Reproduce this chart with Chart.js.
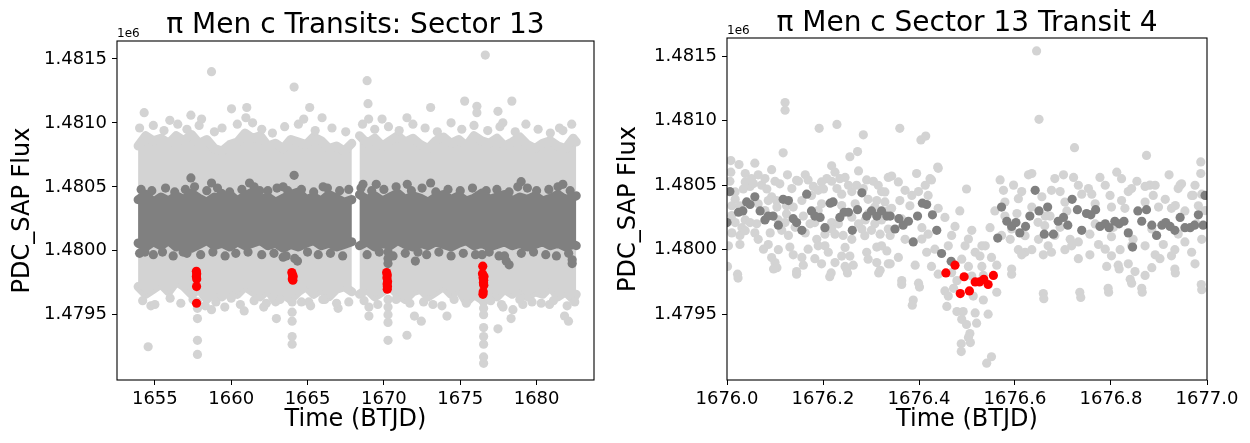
<!DOCTYPE html>
<html>
<head>
<meta charset="utf-8">
<script src="https://cdn.jsdelivr.net/npm/chart.js@4.4.0/dist/chart.umd.min.js"></script>
<style>
  html, body { margin: 0; padding: 0; background: #fff; }
  #wrap { position: relative; width: 1250px; height: 443px; }
  #left { position: absolute; left: 0; top: 0; }
  #right { position: absolute; left: 600px; top: 0; }
</style>
</head>
<body>
<div id="wrap">
  <canvas id="left" width="600" height="443"></canvas>
  <canvas id="right" width="650" height="443"></canvas>
</div>
<script>
// flux values in e-/s (axis shows them with a 1e6 offset)
const fluxTicks = [1479500, 1480000, 1480500, 1481000, 1481500];
const sectorTicks = [1655, 1660, 1665, 1670, 1675, 1680];
const transitTicks = [1676.0, 1676.2, 1676.4, 1676.6, 1676.8, 1677.0];

// Sector 13: the dense cloud is given by its upper/lower edges, per orbit segment
const seg1Time = [1653.9, 1654.4, 1654.9, 1655.4, 1655.9, 1656.4, 1656.9, 1657.4, 1657.9, 1658.4, 1658.9, 1659.4, 1659.9, 1660.4, 1660.9, 1661.4, 1661.9, 1662.4, 1662.9, 1663.4, 1663.9, 1664.4, 1664.9, 1665.4, 1665.9, 1666.4, 1666.9, 1667.4, 1667.9];
const seg1LightTop = [1480820, 1480900, 1480860, 1480880, 1480840, 1480900, 1480860, 1480910, 1480840, 1480870, 1480800, 1480780, 1480830, 1480850, 1480920, 1480880, 1480900, 1480820, 1480840, 1480800, 1480870, 1480850, 1480830, 1480890, 1480860, 1480800, 1480820, 1480780, 1480840];
const seg1LightBottom = [1479720, 1479660, 1479700, 1479740, 1479680, 1479760, 1479720, 1479660, 1479700, 1479620, 1479680, 1479640, 1479700, 1479660, 1479720, 1479680, 1479640, 1479700, 1479600, 1479660, 1479620, 1479680, 1479720, 1479660, 1479700, 1479640, 1479700, 1479720, 1479680];
const seg1DarkTop = [1480400, 1480440, 1480380, 1480420, 1480390, 1480430, 1480400, 1480450, 1480410, 1480380, 1480420, 1480400, 1480440, 1480390, 1480430, 1480460, 1480400, 1480420, 1480380, 1480410, 1480440, 1480460, 1480400, 1480420, 1480390, 1480440, 1480410, 1480380, 1480400];
const seg1DarkBottom = [1480060, 1480030, 1480070, 1480040, 1480080, 1480030, 1480060, 1480020, 1480050, 1480080, 1480040, 1480060, 1480030, 1480070, 1480040, 1480060, 1480080, 1480040, 1480060, 1480020, 1480050, 1480030, 1480060, 1480080, 1480040, 1480060, 1480030, 1480050, 1480070];

const seg2Time = [1668.4, 1668.9, 1669.4, 1669.9, 1670.4, 1670.9, 1671.4, 1671.9, 1672.4, 1672.9, 1673.4, 1673.9, 1674.4, 1674.9, 1675.4, 1675.9, 1676.4, 1676.9, 1677.4, 1677.9, 1678.4, 1678.9, 1679.4, 1679.9, 1680.4, 1680.9, 1681.4, 1681.9, 1682.4, 1682.6];
const seg2LightTop = [1480900, 1480840, 1480880, 1480820, 1480860, 1480900, 1480850, 1480880, 1480830, 1480800, 1480860, 1480890, 1480840, 1480870, 1480820, 1480900, 1480860, 1480840, 1480880, 1480820, 1480850, 1480890, 1480830, 1480800, 1480840, 1480860, 1480820, 1480800, 1480880, 1480850];
const seg2LightBottom = [1479660, 1479700, 1479640, 1479680, 1479720, 1479660, 1479620, 1479680, 1479700, 1479640, 1479680, 1479720, 1479660, 1479700, 1479600, 1479660, 1479620, 1479680, 1479640, 1479700, 1479660, 1479700, 1479640, 1479680, 1479660, 1479720, 1479640, 1479680, 1479620, 1479660];
const seg2DarkTop = [1480440, 1480400, 1480430, 1480390, 1480420, 1480450, 1480400, 1480430, 1480410, 1480380, 1480420, 1480440, 1480400, 1480430, 1480390, 1480410, 1480450, 1480400, 1480420, 1480440, 1480390, 1480420, 1480400, 1480430, 1480390, 1480410, 1480440, 1480400, 1480420, 1480430];
const seg2DarkBottom = [1480040, 1480070, 1480030, 1480060, 1480040, 1480080, 1480050, 1480030, 1480060, 1480040, 1480070, 1480050, 1480030, 1480060, 1480080, 1480040, 1480060, 1480030, 1480050, 1480070, 1480040, 1480060, 1480030, 1480050, 1480070, 1480040, 1480060, 1480030, 1480050, 1480040];

// Sector 13: loose cadences along the edges of the cloud
const lightTopDotTime = [1654.0, 1654.9, 1655.6, 1656.5, 1657.1, 1657.9, 1658.9, 1659.4, 1660.4, 1661.4, 1662.0, 1662.7, 1663.5, 1664.4, 1665.5, 1666.6, 1667.5, 1668.6, 1669.4, 1670.3, 1671.0, 1671.9, 1672.7, 1673.5, 1674.4, 1675.1, 1675.9, 1676.8, 1677.6, 1678.6, 1679.3, 1680.1, 1680.9, 1681.5, 1682.3];
const lightTopDotFlux = [1480960, 1480980, 1480940, 1480990, 1480950, 1480980, 1480930, 1480960, 1480990, 1481000, 1480950, 1480920, 1480970, 1480990, 1480940, 1480960, 1480930, 1480990, 1480950, 1480970, 1480940, 1480990, 1480960, 1480930, 1481000, 1480950, 1480980, 1480940, 1480970, 1480930, 1480990, 1480950, 1480920, 1480960, 1480990];
const lightLowDotTime = [1654.2, 1655.0, 1656.0, 1656.7, 1657.5, 1658.3, 1659.0, 1660.0, 1660.6, 1661.5, 1662.3, 1663.2, 1664.6, 1665.2, 1666.0, 1666.9, 1667.7, 1668.7, 1669.6, 1670.8, 1671.7, 1672.6, 1673.8, 1674.6, 1675.4, 1677.0, 1677.7, 1678.9, 1679.7, 1680.3, 1681.1, 1682.0, 1682.5];
const lightLowDotFlux = [1479610, 1479580, 1479630, 1479590, 1479620, 1479570, 1479600, 1479630, 1479580, 1479610, 1479590, 1479620, 1479600, 1479570, 1479620, 1479590, 1479600, 1479610, 1479580, 1479620, 1479590, 1479600, 1479570, 1479620, 1479590, 1479610, 1479580, 1479620, 1479600, 1479590, 1479610, 1479570, 1479600];
const darkTopDotTime = [1654.1, 1654.8, 1655.7, 1656.3, 1657.0, 1657.6, 1658.4, 1659.1, 1659.9, 1660.7, 1661.5, 1662.4, 1663.0, 1663.7, 1664.6, 1665.4, 1666.3, 1667.1, 1667.7, 1668.5, 1669.2, 1670.0, 1670.8, 1671.8, 1672.5, 1673.4, 1674.2, 1675.0, 1675.8, 1676.7, 1677.4, 1678.2, 1679.4, 1680.0, 1680.8, 1681.4, 1682.2];
const darkTopDotFlux = [1480480, 1480470, 1480490, 1480460, 1480480, 1480500, 1480470, 1480490, 1480460, 1480480, 1480500, 1480470, 1480490, 1480470, 1480480, 1480460, 1480490, 1480470, 1480480, 1480490, 1480470, 1480480, 1480500, 1480470, 1480490, 1480460, 1480480, 1480470, 1480490, 1480470, 1480480, 1480460, 1480490, 1480470, 1480480, 1480500, 1480470];
const darkLowDotTime = [1654.0, 1654.9, 1655.5, 1656.2, 1657.1, 1658.0, 1658.8, 1659.6, 1660.3, 1661.1, 1662.0, 1662.8, 1663.6, 1665.0, 1665.7, 1666.5, 1667.3, 1668.9, 1669.7, 1670.6, 1671.4, 1672.8, 1673.6, 1674.4, 1675.2, 1676.0, 1676.9, 1677.9, 1679.0, 1679.8, 1680.6, 1681.3, 1682.1];
const darkLowDotFlux = [1479980, 1479970, 1479990, 1479960, 1479980, 1479970, 1479990, 1479960, 1479980, 1479990, 1479970, 1479980, 1479960, 1479990, 1479970, 1479980, 1479960, 1479970, 1479990, 1479960, 1479980, 1479970, 1479990, 1479960, 1479980, 1479970, 1479990, 1479960, 1479980, 1479990, 1479970, 1479960, 1479980];

// Sector 13: single cadences standing out of the cloud
const sectorLightTime = [1658.71, 1664.12, 1654.30, 1660.02, 1661.02, 1657.36, 1655.98, 1658.06, 1665.14, 1665.95, 1664.75, 1660.96, 1654.56, 1657.79, 1657.79, 1657.79, 1663.99, 1663.99, 1662.96, 1667.00, 1654.74, 1665.08, 1658.71, 1660.85, 1659.58, 1662.13, 1666.13,
  1676.64, 1668.90, 1668.96, 1669.00, 1669.88, 1671.51, 1673.06, 1675.29, 1676.09, 1676.09, 1677.47, 1678.38, 1677.79, 1681.72, 1670.27, 1671.51, 1676.53, 1676.53, 1676.53, 1676.53, 1677.47, 1669.02, 1669.02, 1672.45, 1672.00, 1674.13, 1678.33, 1682.09, 1681.83, 1679.10, 1673.21, 1680.85, 1677.80, 1678.45,
  1676.53, 1676.53, 1676.53, 1676.53, 1670.27, 1670.27, 1670.27, 1670.27, 1663.99, 1663.99, 1663.99, 1657.79, 1657.79];
const sectorLightFlux = [1481400, 1481280, 1481080, 1481110, 1481120, 1481060, 1481020, 1481030, 1481120, 1481040, 1481030, 1481040, 1479250, 1479300, 1479190, 1479470, 1479330, 1479270, 1479470, 1479550, 1479570, 1479600, 1479540, 1479530, 1479560, 1479560, 1479620,
  1481530, 1481330, 1481150, 1481030, 1481030, 1481040, 1481120, 1481170, 1481130, 1481080, 1481090, 1481170, 1481000, 1480940, 1479300, 1479340, 1479120, 1479170, 1479270, 1479330, 1479390, 1479490, 1479560, 1479450, 1479490, 1479490, 1479470, 1479450, 1479490, 1479580, 1479580, 1479580, 1479560, 1479540,
  1479600, 1479550, 1479500, 1479400, 1479620, 1479560, 1479500, 1479440, 1479600, 1479520, 1479450, 1479600, 1479550];
const sectorDarkTime = [1656.85, 1654.35, 1663.40, 1664.16, 1664.34, 1658.71, 1664.12, 1657.36, 1661.20, 1666.02, 1659.36, 1661.87, 1663.40, 1670.27, 1670.27, 1670.27, 1672.23, 1672.06, 1676.43, 1677.54, 1678.20, 1678.01, 1682.33, 1682.33, 1668.63, 1669.50, 1673.06, 1678.99, 1678.77, 1681.72, 1671.53];
const sectorDarkFlux = [1479990, 1479990, 1479950, 1479940, 1479920, 1480530, 1480590, 1480570, 1480530, 1480500, 1480450, 1480470, 1480500, 1479990, 1479940, 1479900, 1479990, 1479920, 1479970, 1479960, 1479890, 1479920, 1479930, 1479900, 1480520, 1480520, 1480530, 1480540, 1480500, 1480520, 1480520];
const sectorRedTime = [1657.72, 1657.74, 1657.72, 1657.74, 1657.73, 1657.73, 1663.97, 1664.02, 1664.06, 1664.00, 1664.04, 1670.18, 1670.22, 1670.20, 1670.24, 1670.21, 1670.23, 1670.22];
const sectorRedFlux = [1479840, 1479820, 1479800, 1479780, 1479720, 1479590, 1479830, 1479810, 1479800, 1479780, 1479770, 1479830, 1479810, 1479790, 1479760, 1479740, 1479720, 1479700];

// Transit 4 close-up: 2-min cadences (light), binned (dark), in-transit bins (red)
const transitLightTime = [1676.008, 1676.025, 1676.058, 1676.117, 1676.093, 1676.126, 1676.008, 1676.006, 1676.038, 1676.051, 1676.065, 1676.048, 1676.034, 1676.017, 1676.010, 1676.027, 1676.072, 1676.083, 1676.100, 1676.110, 1676.093, 1676.086, 1676.138, 1676.104, 1676.124, 1676.149, 1676.163, 1676.169, 1676.180, 1676.190, 1676.201, 1676.218, 1676.225, 1676.235, 1676.218, 1676.246, 1676.256, 1676.272, 1676.274, 1676.291, 1676.305, 1676.322, 1676.336, 1676.239, 1676.260, 1676.294, 1676.312, 1676.329, 1676.017, 1676.031, 1676.038, 1676.048, 1676.062, 1676.107, 1676.121, 1676.159, 1676.173, 1676.183, 1676.218, 1676.232, 1676.274, 1676.288, 1676.308, 1676.322, 1676.010, 1676.027, 1676.058, 1676.065, 1676.090, 1676.114, 1676.128, 1676.163, 1676.187, 1676.204, 1676.225, 1676.242, 1676.260, 1676.281, 1676.301, 1676.319, 1676.336, 1676.027, 1676.086, 1676.107, 1676.131, 1676.138, 1676.156, 1676.183, 1676.190, 1676.204, 1676.211, 1676.239, 1676.256, 1676.291, 1676.312, 1676.333, 1676.100, 1676.104, 1676.159, 1676.197, 1676.246, 1676.263, 1676.312, 1676.336, 1676.022, 1676.145, 1676.217, 1676.249, 1676.319, 1676.001,
  1676.121, 1676.121, 1676.192, 1676.229, 1676.284, 1676.360, 1676.404, 1676.414, 1676.439, 1676.423, 1676.485,
  1676.440, 1676.343, 1676.395, 1676.426, 1676.499, 1676.371, 1676.399, 1676.360, 1676.419, 1676.343, 1676.381, 1676.440, 1676.454, 1676.475, 1676.510, 1676.406, 1676.340, 1676.371, 1676.419, 1676.468, 1676.496, 1676.538, 1676.548, 1676.517, 1676.357, 1676.416, 1676.527, 1676.551, 1676.340, 1676.392, 1676.426, 1676.440, 1676.503, 1676.531, 1676.562, 1676.593, 1676.364, 1676.399, 1676.479, 1676.472, 1676.534, 1676.562, 1676.388, 1676.454, 1676.461, 1676.513, 1676.534, 1676.659, 1676.458, 1676.479, 1676.492, 1676.517, 1676.544, 1676.489, 1676.499, 1676.520, 1676.506, 1676.503, 1676.488, 1676.551, 1676.541,
  1676.569, 1676.628, 1676.635, 1676.576, 1676.597, 1676.614, 1676.656, 1676.558, 1676.579, 1676.604, 1676.635, 1676.663, 1676.572, 1676.590, 1676.607, 1676.621, 1676.635, 1676.649, 1676.669, 1676.659, 1676.614,
  1676.645, 1676.650, 1676.724, 1676.874, 1676.987, 1676.987, 1676.921, 1676.812, 1676.822, 1676.701, 1676.722, 1676.777, 1676.854, 1676.881, 1676.944, 1676.971,
  1676.947, 1676.871, 1676.676, 1676.694, 1676.739, 1676.760, 1676.798, 1676.836, 1676.888, 1676.913, 1676.968, 1676.989, 1676.673, 1676.708, 1676.801, 1676.829, 1676.899, 1676.926, 1676.954, 1676.982, 1676.683, 1676.715, 1676.732, 1676.756, 1676.774, 1676.801, 1676.819, 1676.846, 1676.871, 1676.892, 1676.909, 1676.933, 1676.954, 1676.968, 1676.989, 1676.676, 1676.704, 1676.732, 1676.756, 1676.791, 1676.815, 1676.836, 1676.850, 1676.840, 1676.871, 1676.885, 1676.902, 1676.933, 1676.975, 1676.794, 1676.864, 1676.735, 1676.988,
  1676.737, 1676.660, 1676.795, 1676.865, 1676.989, 1676.593, 1676.386, 1676.401, 1676.023, 1676.145, 1676.097, 1676.214, 1676.251, 1676.316, 1676.364, 1676.817, 1676.934, 1676.843, 1676.488, 1676.507,
  1676.038, 1676.055, 1676.079, 1676.135, 1676.145, 1676.176, 1676.197, 1676.208, 1676.229, 1676.253, 1676.270, 1676.284, 1676.315, 1676.329, 1676.017, 1676.065, 1676.103, 1676.156, 1676.197, 1676.239, 1676.267, 1676.308, 1676.010, 1676.079, 1676.124, 1676.190, 1676.260, 1676.294, 1676.336, 1676.038, 1676.142, 1676.218, 1676.287, 1676.322, 1676.003, 1676.076, 1676.169, 1676.246, 1676.093, 1676.225, 1676.294,
  1676.683, 1676.732, 1676.753, 1676.788, 1676.843, 1676.892, 1676.940, 1676.975, 1676.704, 1676.767, 1676.822, 1676.871, 1676.934, 1676.996, 1676.694, 1676.767, 1676.805, 1676.885, 1676.940, 1676.978, 1676.718, 1676.788, 1676.843, 1676.926, 1676.801,
  1676.357, 1676.385, 1676.413, 1676.364, 1676.406, 1676.433, 1676.461, 1676.503, 1676.531, 1676.579, 1676.607, 1676.648, 1676.593, 1676.621, 1676.662, 1676.489, 1676.510, 1676.468];
const transitLightFlux = [1480690, 1480660, 1480670, 1480750, 1480620, 1480580, 1480600, 1480530, 1480590, 1480550, 1480580, 1480490, 1480470, 1480390, 1480340, 1480340, 1480500, 1480470, 1480530, 1480510, 1480410, 1480380, 1480330, 1480330, 1480340, 1480530, 1480580, 1480540, 1480490, 1480460, 1480470, 1480650, 1480600, 1480550, 1480530, 1480560, 1480720, 1480760, 1480610, 1480540, 1480530, 1480450, 1480560, 1480430, 1480450, 1480390, 1480380, 1480370, 1480210, 1480170, 1480230, 1480210, 1480200, 1480230, 1480210, 1480260, 1480200, 1480210, 1480210, 1480200, 1480200, 1480230, 1480200, 1480230, 1480130, 1480110, 1480130, 1480080, 1480130, 1480150, 1480110, 1480130, 1480080, 1480120, 1480120, 1480110, 1480080, 1480160, 1480150, 1480120, 1480160, 1480040, 1480040, 1480000, 1480020, 1479960, 1479940, 1479930, 1480030, 1480030, 1479980, 1479950, 1479950, 1479980, 1480020, 1479990, 1479900, 1479860, 1479880, 1479890, 1479870, 1479880, 1479900, 1479890, 1479810, 1479830, 1479820, 1479850, 1479840, 1479870,
  1481140, 1481080, 1480940, 1480970, 1480890, 1480940, 1480850, 1480880, 1480640, 1480550, 1480300,
  1480630, 1480570, 1480590, 1480540, 1480470, 1480460, 1480450, 1480380, 1480420, 1480320, 1480340, 1480320, 1480250, 1480180, 1480150, 1480170, 1480110, 1480080, 1480120, 1480110, 1480030, 1480030, 1480170, 1479980, 1479940, 1479980, 1479950, 1479940, 1479890, 1479880, 1479870, 1479810, 1479870, 1479870, 1479880, 1479850, 1479760, 1479740, 1479760, 1479700, 1479800, 1479670, 1479610, 1479680, 1479640, 1479640, 1479610, 1479660, 1479560, 1479520, 1479520, 1479510, 1479500, 1479460, 1479420, 1479430, 1479350, 1479320, 1479270, 1479170, 1479120,
  1480540, 1480580, 1480590, 1480460, 1480500, 1480450, 1480410, 1480300, 1480260, 1480280, 1480330, 1480260, 1480110, 1480080, 1480000, 1479980, 1480000, 1480080, 1480030, 1479960, 1479960,
  1481540, 1481010, 1480790, 1480730, 1480680, 1480590, 1480580, 1480600, 1480550, 1480580, 1480560, 1480560, 1480530, 1480500, 1480500, 1480420,
  1480510, 1480490, 1480460, 1480450, 1480430, 1480430, 1480420, 1480450, 1480420, 1480390, 1480420, 1480430, 1480260, 1480300, 1480330, 1480320, 1480330, 1480320, 1480300, 1480340, 1480110, 1480080, 1480060, 1480120, 1480040, 1480100, 1480000, 1480080, 1480030, 1479960, 1480040, 1480000, 1480060, 1479980, 1480080, 1479980, 1480000, 1479930, 1479960, 1479870, 1479880, 1479890, 1479830, 1479770, 1479800, 1479860, 1479930, 1479850, 1479890, 1479700, 1479700, 1479670, 1479730,
  1479630, 1479620, 1479670, 1479670, 1479690, 1479810, 1479570, 1479710, 1479780, 1479810, 1479850, 1479790, 1479820, 1479820, 1479730, 1479850, 1479820, 1479740, 1479210, 1479280,
  1480525, 1480512, 1480551, 1480473, 1480537, 1480420, 1480525, 1480551, 1480473, 1480499, 1480499, 1480473, 1480499, 1480447, 1480447, 1480355, 1480381, 1480381, 1480355, 1480342, 1480355, 1480330, 1480264, 1480303, 1480277, 1480303, 1480251, 1480277, 1480303, 1480147, 1480173, 1480160, 1480108, 1480030, 1480030, 1480004, 1480004, 1480017, 1479939, 1479900, 1479926,
  1480551, 1480499, 1480473, 1480499, 1480473, 1480499, 1480473, 1480499, 1480369, 1480355, 1480381, 1480369, 1480342, 1480303, 1480173, 1480199, 1480173, 1480160, 1480121, 1480199, 1480030, 1480004, 1480030, 1479952, 1479952,
  1480525, 1480420, 1480499, 1480238, 1480082, 1480004, 1480030, 1480082, 1480030, 1480369, 1480395, 1480212, 1480160, 1480108, 1480186, 1479926, 1479795, 1479822];
const transitDarkTime = [1676.000, 1676.006, 1676.024, 1676.033, 1676.041, 1676.048, 1676.058, 1676.069, 1676.079, 1676.086, 1676.096, 1676.107, 1676.117, 1676.128, 1676.138, 1676.145, 1676.156, 1676.166, 1676.176, 1676.183, 1676.194, 1676.204, 1676.215, 1676.221, 1676.235, 1676.244, 1676.253, 1676.261, 1676.272, 1676.281, 1676.291, 1676.301, 1676.312, 1676.322, 1676.333, 1676.340, 1676.350, 1676.358, 1676.367, 1676.378, 1676.388, 1676.397, 1676.407, 1676.416, 1676.428, 1676.437, 1676.447, 1676.467, 1676.564, 1676.572, 1676.583, 1676.593, 1676.602, 1676.610, 1676.622, 1676.631, 1676.642, 1676.650, 1676.661, 1676.668, 1676.680, 1676.690, 1676.701, 1676.710, 1676.719, 1676.730, 1676.739, 1676.749, 1676.758, 1676.768, 1676.777, 1676.788, 1676.796, 1676.808, 1676.817, 1676.827, 1676.836, 1676.845, 1676.856, 1676.864, 1676.874, 1676.885, 1676.895, 1676.906, 1676.914, 1676.923, 1676.933, 1676.944, 1676.954, 1676.965, 1676.974, 1676.982, 1676.992, 1676.996];
const transitDarkFlux = [1480210, 1480450, 1480290, 1480300, 1480370, 1480350, 1480410, 1480300, 1480230, 1480260, 1480260, 1480190, 1480390, 1480380, 1480240, 1480210, 1480150, 1480430, 1480300, 1480260, 1480250, 1480170, 1480360, 1480370, 1480250, 1480290, 1480290, 1480150, 1480310, 1480440, 1480260, 1480300, 1480260, 1480300, 1480260, 1480260, 1480160, 1480240, 1480190, 1480220, 1480060, 1480260, 1480360, 1480350, 1480270, 1480150, 1479970, 1479910, 1480090, 1480330, 1480220, 1480180, 1480210, 1480130, 1480180, 1480260, 1480460, 1480300, 1480120, 1480330, 1480120, 1480220, 1480250, 1480190, 1480390, 1480310, 1480150, 1480280, 1480270, 1480310, 1480180, 1480200, 1480170, 1480220, 1480200, 1480220, 1480130, 1480020, 1480300, 1480220, 1480310, 1480190, 1480110, 1480190, 1480210, 1480180, 1480150, 1480250, 1480170, 1480170, 1480190, 1480270, 1480190, 1480420];
const transitRedTime = [1676.456, 1676.475, 1676.494, 1676.486, 1676.505, 1676.517, 1676.526, 1676.535, 1676.544, 1676.555];
const transitRedFlux = [1479820, 1479880, 1479790, 1479660, 1479680, 1479750, 1479750, 1479770, 1479730, 1479800];

const LIGHT = '#d3d3d3';
const DARK = '#808080';
const RED = '#ff0000';
const FONT = 'DejaVu Sans';

Chart.defaults.font.family = FONT;
Chart.defaults.color = '#000';

function pts(ts, vs) {
    return ts.map((t, i) => ({ x: t, y: vs[i] }));
}

function scatterSet(ts, vs, color, order) {
    return {
        data: pts(ts, vs),
        backgroundColor: color,
        borderWidth: 0,
        pointRadius: 4.6,
        pointHoverRadius: 4.6,
        showLine: false,
        order: order
    };
}

// an edge of the dense cloud, drawn with a fat round line so it bulges like the dots
function edgeSet(ts, vs, color, order, fill) {
    return {
        data: pts(ts, vs),
        borderColor: color,
        backgroundColor: color,
        borderWidth: 9,
        borderJoinStyle: 'round',
        borderCapStyle: 'round',
        pointRadius: 0,
        showLine: true,
        tension: 0,
        fill: fill,
        order: order
    };
}

// axes frame, title and the "1e6" offset text, the way matplotlib draws them
function framePlugin(title, titleY, offsetY) {
    return {
        id: 'frame',
        afterDraw(chart) {
            const { ctx, chartArea: a } = chart;
            ctx.save();
            ctx.strokeStyle = '#000';
            ctx.lineWidth = 1.1;
            ctx.strokeRect(a.left, a.top, a.right - a.left, a.bottom - a.top);
            ctx.fillStyle = '#000';
            ctx.textAlign = 'center';
            ctx.textBaseline = 'alphabetic';
            ctx.font = '28px "' + FONT + '"';
            ctx.fillText(title, (a.left + a.right) / 2, titleY);
            ctx.textAlign = 'left';
            ctx.font = '12px "' + FONT + '"';
            ctx.fillText('1e6', a.left, offsetY);
            ctx.restore();
        }
    };
}

function axes(xMin, xMax, xTicks, xDigits, yAxisWidth, yTitlePad) {
    return {
        x: {
            type: 'linear',
            min: xMin,
            max: xMax,
            afterBuildTicks: s => { s.ticks = xTicks.map(v => ({ value: v })); },
            afterFit: s => { s.height = 63; },
            ticks: {
                font: { size: 18 },
                color: '#000',
                padding: 4,
                maxRotation: 0,
                autoSkip: false,
                callback: v => v.toFixed(xDigits)
            },
            grid: { display: true, drawOnChartArea: false, drawTicks: true, tickLength: 5, tickColor: '#000', tickWidth: 1 },
            border: { display: false },
            title: { display: true, text: 'Time (BTJD)', font: { size: 24 }, color: '#000', padding: { top: 0, bottom: 9 } }
        },
        y: {
            type: 'linear',
            min: 1478990,
            max: 1481640,
            afterBuildTicks: s => { s.ticks = fluxTicks.map(v => ({ value: v })); },
            afterFit: s => { s.width = yAxisWidth; },
            ticks: {
                font: { size: 18 },
                color: '#000',
                padding: 5,
                autoSkip: false,
                callback: v => (v / 1e6).toFixed(4)
            },
            grid: { display: true, drawOnChartArea: false, drawTicks: true, tickLength: 5, tickColor: '#000', tickWidth: 1 },
            border: { display: false },
            title: { display: true, text: 'PDC_SAP Flux', font: { size: 24 }, color: '#000', padding: { top: yTitlePad, bottom: 0 } }
        }
    };
}

const common = {
    responsive: false,
    animation: false,
    events: [],
    plugins: { legend: { display: false }, tooltip: { enabled: false }, title: { display: false } }
};

const edgeDotTime = lightTopDotTime.concat(lightLowDotTime);
const edgeDotFlux = lightTopDotFlux.concat(lightLowDotFlux);
const darkDotTime = darkTopDotTime.concat(darkLowDotTime, sectorDarkTime);
const darkDotFlux = darkTopDotFlux.concat(darkLowDotFlux, sectorDarkFlux);

// left: whole sector
new Chart(document.getElementById('left'), {
    type: 'scatter',
    data: {
        datasets: [
            edgeSet(seg1Time, seg1LightTop, LIGHT, 6, '+1'),
            edgeSet(seg1Time, seg1LightBottom, LIGHT, 6, false),
            edgeSet(seg2Time, seg2LightTop, LIGHT, 6, '+1'),
            edgeSet(seg2Time, seg2LightBottom, LIGHT, 6, false),
            scatterSet(sectorLightTime.concat(edgeDotTime), sectorLightFlux.concat(edgeDotFlux), LIGHT, 5),
            edgeSet(seg1Time, seg1DarkTop, DARK, 4, '+1'),
            edgeSet(seg1Time, seg1DarkBottom, DARK, 4, false),
            edgeSet(seg2Time, seg2DarkTop, DARK, 4, '+1'),
            edgeSet(seg2Time, seg2DarkBottom, DARK, 4, false),
            scatterSet(darkDotTime, darkDotFlux, DARK, 3),
            scatterSet(sectorRedTime.concat(transitRedTime), sectorRedFlux.concat(transitRedFlux), RED, 1)
        ]
    },
    options: Object.assign({}, common, {
        layout: { padding: { top: 41, right: 6, bottom: 0, left: 0 } },
        scales: axes(1652.52, 1683.76, sectorTicks, 0, 117, 8)
    }),
    plugins: [framePlugin('\u03c0 Men c Transits: Sector 13', 33, 37)]
});

// right: zoom on transit 4
new Chart(document.getElementById('right'), {
    type: 'scatter',
    data: {
        datasets: [
            scatterSet(transitLightTime, transitLightFlux, LIGHT, 3),
            scatterSet(transitDarkTime, transitDarkFlux, DARK, 2),
            scatterSet(transitRedTime, transitRedFlux, RED, 1)
        ]
    },
    options: Object.assign({}, common, {
        layout: { padding: { top: 38, right: 43, bottom: 0, left: 0 } },
        scales: axes(1676.0, 1677.0, transitTicks, 1, 127, 14)
    }),
    plugins: [framePlugin('\u03c0 Men c Sector 13 Transit 4', 31, 34)]
});
</script>
</body>
</html>
